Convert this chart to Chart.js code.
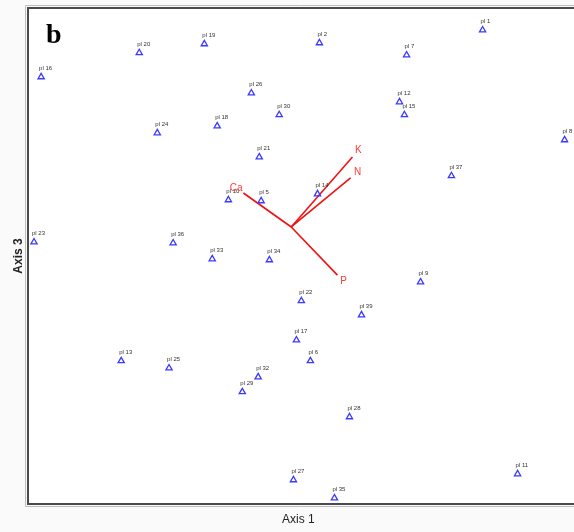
<!DOCTYPE html>
<html>
<head>
<meta charset="utf-8">
<script src="https://cdn.jsdelivr.net/npm/chart.js@4.4.0/dist/chart.umd.min.js"></script>
<style>
  html, body { margin: 0; padding: 0; background: #fafafa; overflow: hidden; }
  #wrap { position: relative; width: 574px; height: 532px; }
</style>
</head>
<body>
<div id="wrap"><canvas id="ordChart"></canvas></div>
<script>
// plot scores
const plotLabels = ['pl 1', 'pl 2', 'pl 7', 'pl 19', 'pl 20', 'pl 16', 'pl 26', 'pl 12', 'pl 15', 'pl 30',
    'pl 18', 'pl 24', 'pl 8', 'pl 21', 'pl 37', 'pl 10', 'pl 5', 'pl 14', 'pl 23', 'pl 36',
    'pl 33', 'pl 34', 'pl 9', 'pl 22', 'pl 39', 'pl 17', 'pl 6', 'pl 13', 'pl 25', 'pl 32',
    'pl 29', 'pl 28', 'pl 11', 'pl 27', 'pl 35'];
const axis1Scores = [0.663, 0.066, 0.385, -0.355, -0.593, -0.952, -0.183, 0.359, 0.377, -0.081,
    -0.308, -0.527, 0.963, -0.154, 0.549, -0.267, -0.147, 0.059, -0.978, -0.469,
    -0.326, -0.117, 0.436, 0.000, 0.220, -0.018, 0.033, -0.659, -0.484, -0.158,
    -0.216, 0.176, 0.791, -0.029, 0.121];
const axis3Scores = [0.911, 0.859, 0.810, 0.855, 0.819, 0.722, 0.657, 0.621, 0.569, 0.569,
    0.524, 0.496, 0.468, 0.399, 0.323, 0.226, 0.222, 0.250, 0.056, 0.052,
    -0.012, -0.016, -0.105, -0.181, -0.238, -0.339, -0.423, -0.423, -0.452, -0.488,
    -0.548, -0.649, -0.879, -0.903, -0.976];

// environmental vectors
const vectorNames = ['K', 'N', 'Ca', 'P'];
const vectorAxis1 = [0.187, 0.180, -0.212, 0.132];
const vectorAxis3 = [0.399, 0.315, 0.254, -0.077];
const vectorOrigin = [-0.037, 0.117];

const scatterData = plotLabels.map((l, i) => ({ x: axis1Scores[i], y: axis3Scores[i] }));

const vectorSets = vectorNames.map((name, i) => ({
    type: 'scatter',
    label: name,
    data: [{ x: vectorOrigin[0], y: vectorOrigin[1] }, { x: vectorAxis1[i], y: vectorAxis3[i] }],
    showLine: true,
    borderColor: '#ee1111',
    borderWidth: 1.6,
    pointRadius: 0
}));

// background, frame, labels
const decorPlugin = {
    id: 'decor',
    beforeDraw(chart) {
        const { ctx, chartArea: a } = chart;
        ctx.save();
        ctx.fillStyle = '#fafafa';
        ctx.fillRect(0, 0, chart.width, chart.height);
        ctx.fillStyle = '#ffffff';
        ctx.fillRect(a.left, a.top, chart.width - a.left, a.bottom - a.top);
        ctx.restore();
    },
    afterDraw(chart) {
        const { ctx, chartArea: a } = chart;
        ctx.save();
        // outer light line
        ctx.strokeStyle = '#bdbdbd';
        ctx.lineWidth = 1;
        ctx.beginPath();
        ctx.moveTo(chart.width, a.top - 2.5);
        ctx.lineTo(a.left - 2.5, a.top - 2.5);
        ctx.lineTo(a.left - 2.5, a.bottom + 2.5);
        ctx.lineTo(chart.width, a.bottom + 2.5);
        ctx.stroke();
        // main dark frame
        ctx.strokeStyle = '#4a4a4a';
        ctx.lineWidth = 2;
        ctx.beginPath();
        ctx.moveTo(chart.width, a.top);
        ctx.lineTo(a.left, a.top);
        ctx.lineTo(a.left, a.bottom);
        ctx.lineTo(chart.width, a.bottom);
        ctx.stroke();

        // plot labels
        const meta = chart.getDatasetMeta(0);
        ctx.fillStyle = '#333333';
        ctx.font = '6px "Liberation Sans", Arial, sans-serif';
        ctx.textAlign = 'left';
        ctx.textBaseline = 'alphabetic';
        meta.data.forEach((pt, i) => {
            ctx.fillText(plotLabels[i], pt.x - 2, pt.y - 7);
        });

        // vector labels
        ctx.fillStyle = '#ff3b3b';
        ctx.font = '10px "Liberation Sans", Arial, sans-serif';
        ctx.textAlign = 'center';
        ctx.textBaseline = 'middle';
        vectorNames.forEach((name, i) => {
            const m = chart.getDatasetMeta(i + 1).data;
            const dx = m[1].x - m[0].x, dy = m[1].y - m[0].y;
            const len = Math.sqrt(dx * dx + dy * dy);
            ctx.fillText(name, m[1].x + dx / len * 9, m[1].y + dy / len * 9);
        });

        // panel letter
        ctx.fillStyle = '#000000';
        ctx.font = 'bold 28px "Liberation Serif", "Times New Roman", serif';
        ctx.textAlign = 'left';
        ctx.textBaseline = 'alphabetic';
        ctx.fillText('b', a.left + 18, a.top + 35);
        ctx.restore();
    }
};

new Chart(document.getElementById('ordChart'), {
    type: 'scatter',
    data: {
        datasets: [{
            label: 'plots',
            data: scatterData,
            pointStyle: 'triangle',
            pointRadius: 3.6,
            pointBackgroundColor: 'rgba(255,255,255,0)',
            pointBorderColor: '#3a3aff',
            pointBorderWidth: 1.3
        }, ...vectorSets]
    },
    options: {
        responsive: true,
        maintainAspectRatio: false,
        animation: false,
        layout: { padding: { top: 8, right: 0, left: 0, bottom: 0 } },
        plugins: {
            legend: { display: false },
            tooltip: { enabled: false }
        },
        scales: {
            x: {
                type: 'linear',
                min: -1,
                max: 0.978,
                ticks: { display: false },
                grid: { display: false },
                border: { display: false },
                title: {
                    display: true,
                    text: 'Axis 1',
                    color: '#222',
                    font: { family: '"Liberation Sans", Arial, sans-serif', size: 12 },
                    padding: { top: 0, bottom: 5 }
                },
                afterFit(scale) { scale.height = 28; }
            },
            y: {
                type: 'linear',
                min: -1,
                max: 1,
                ticks: { display: false },
                grid: { display: false },
                border: { display: false },
                title: {
                    display: true,
                    text: 'Axis 3',
                    color: '#222',
                    font: { family: '"Liberation Sans", Arial, sans-serif', size: 12, weight: 'bold' },
                    padding: { top: 11, bottom: 0 }
                },
                afterFit(scale) { scale.width = 28; }
            }
        }
    },
    plugins: [decorPlugin]
});
</script>
</body>
</html>
